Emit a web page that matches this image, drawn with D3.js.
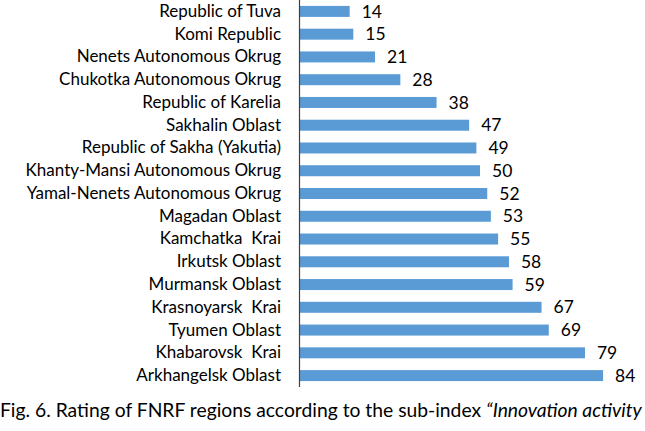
<!DOCTYPE html>
<html>
<head>
<meta charset="utf-8">
<script src="https://cdn.jsdelivr.net/npm/d3@7"></script>
<style>
  html, body { margin: 0; padding: 0; background: #fff; }
  svg { display: block; }
  text { font-family: Lato, "Open Sans", sans-serif; fill: #000; white-space: pre; }
</style>
</head>
<body>
<div id="chart"></div>
<script>
const categories = [
  "Republic of Tuva",
  "Komi Republic",
  "Nenets Autonomous Okrug",
  "Chukotka Autonomous Okrug",
  "Republic of Karelia",
  "Sakhalin Oblast",
  "Republic of Sakha (Yakutia)",
  "Khanty-Mansi Autonomous Okrug",
  "Yamal-Nenets Autonomous Okrug",
  "Magadan Oblast",
  "Kamchatka  Krai",
  "Irkutsk Oblast",
  "Murmansk Oblast",
  "Krasnoyarsk  Krai",
  "Tyumen Oblast",
  "Khabarovsk  Krai",
  "Arkhangelsk Oblast"
];
const values = [14, 15, 21, 28, 38, 47, 49, 50, 52, 53, 55, 58, 59, 67, 69, 79, 84];
const captionPlain = "Fig. 6. Rating of FNRF regions according to the sub-index ";
const captionItalic = "\u201CInnovation activity";

const W = 645, H = 431;
const svg = d3.select("#chart").append("svg").attr("width", W).attr("height", H);

const axisX = 299;
const x = d3.scaleLinear().domain([0, 90]).range([axisX, axisX + 3.62 * 90]);
const y = d3.scaleBand().domain(categories).range([0, 387])
  .paddingInner(0.517).paddingOuter(0.26);

const data = categories.map((c, i) => ({ c, v: values[i] }));

svg.selectAll("rect.bar").data(data).enter().append("rect")
  .attr("class", "bar")
  .attr("x", x(0))
  .attr("y", d => y(d.c))
  .attr("width", d => x(d.v) - x(0))
  .attr("height", y.bandwidth())
  .attr("fill", "#5B9BD5");

// category axis
const yAxis = d3.axisLeft(y).tickSize(0).tickPadding(18);
const gy = svg.append("g").attr("transform", `translate(${axisX},0)`).call(yAxis);
gy.select(".domain").attr("stroke", "#404040").attr("stroke-width", 1.2).attr("d", "M0.5,0V387");
gy.selectAll("text").attr("font-size", 17).attr("font-family", "Lato, sans-serif")
  .attr("fill", "#000").style("white-space", "pre");

// value labels
svg.selectAll("text.val").data(data).enter().append("text")
  .attr("class", "val")
  .attr("x", d => x(d.v) + 12)
  .attr("y", d => y(d.c) + y.bandwidth() / 2)
  .attr("dy", "0.35em")
  .attr("font-size", 17.5)
  .text(d => d.v);

// caption
const cap = svg.append("text").attr("x", 0).attr("y", 417).attr("font-size", 19.3);
cap.append("tspan").text(captionPlain);
cap.append("tspan").attr("font-style", "italic").text(captionItalic);
</script>
</body>
</html>
